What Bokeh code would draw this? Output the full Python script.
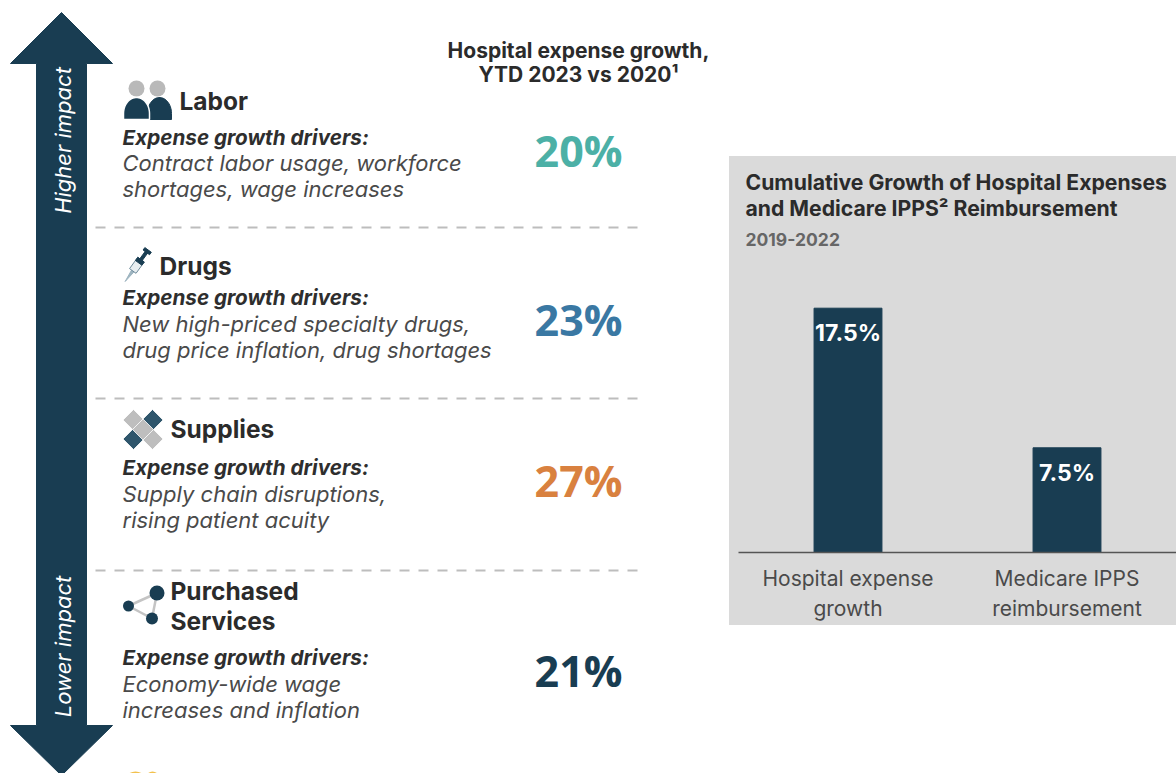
import numpy as np
from bokeh.core.properties import value
from bokeh.embed import file_html
from bokeh.layouts import column
from bokeh.models import ColumnDataSource, Label, Range1d, FactorRange
from bokeh.plotting import figure
from bokeh.resources import INLINE

NAVY = "#193D52"
GREY = "#BDBDBD"
FONT = "Inter"

# Expense categories and their growth figures
section_names = ["Labor", "Drugs", "Supplies", "Purchased", "Services"]
section_name_x = [179, 159, 170, 170, 170]
section_name_y = [100, 265, 428, 590, 620]
driver_heading_y = [137, 297, 467, 657]
driver_lines = [
    "Contract labor usage, workforce", "shortages, wage increases",
    "New high-priced specialty drugs,", "drug price inflation, drug shortages",
    "Supply chain disruptions,", "rising patient acuity",
    "Economy-wide wage", "increases and inflation",
]
driver_line_y = [162, 188, 323, 349, 493, 519, 683, 709]
growth_pct = [20, 23, 27, 21]
growth_colors = ["#4CB0A6", "#3A78A3", "#D9813F", NAVY]
growth_y = [150, 319, 480, 670]
divider_y = [227, 398, 570]

# Cumulative growth bars
bar_categories = ["Hospital expense\ngrowth", "Medicare IPPS\nreimbursement"]
bar_values = [17.5, 7.5]


def text(fig, x, y, s, size, color="#333333", style="normal", align="left", angle=0.0, font=FONT):
    fig.text(x=[x], y=[y], text=[s], text_font=value(font), text_font_size=f"{size}px",
             text_font_style=style, text_color=color, text_align=align,
             text_baseline="middle", angle=angle)


def rotated(cx, cy, deg, pts):
    a = np.radians(deg)
    xs = [cx + px * np.cos(a) - py * np.sin(a) for px, py in pts]
    ys = [cy + px * np.sin(a) + py * np.cos(a) for px, py in pts]
    return xs, ys


def dome(cx, half, top, bottom):
    t = np.linspace(np.pi, 2 * np.pi, 30)
    xs = list(cx + half * np.cos(t)) + [cx + half, cx - half]
    ys = list(top + 16 + 16 * np.sin(t)) + [bottom, bottom]
    return xs, ys


left = figure(width=729, height=773, x_range=Range1d(0, 729), y_range=Range1d(773, 0),
              output_backend="svg", toolbar_location=None, min_border=0)
left.axis.visible = False
left.grid.visible = False
left.outline_line_color = None

# Impact arrow
left.patch([61, 112, 86, 86, 112, 61, 10, 36, 36, 10],
           [12, 63, 63, 725, 725, 775, 725, 725, 63, 63], color=NAVY)
text(left, 62, 140, "Higher impact", 22, "#FFFFFF", "italic", "center", np.pi / 2)
text(left, 62, 646, "Lower impact", 22, "#FFFFFF", "italic", "center", np.pi / 2)

# Column heading
text(left, 578, 50, "Hospital expense growth,", 21, "#2B2B2B", "bold", "center")
text(left, 578, 74, "YTD 2023 vs 2020¹", 21, "#2B2B2B", "bold", "center")

# Dividers
for y in divider_y:
    left.line([95, 638], [y, y], line_color=GREY, line_width=2, line_dash="10 9")

# Section names, driver text and growth figures
for s, x, y in zip(section_names, section_name_x, section_name_y):
    text(left, x, y, s, 24.5, "#2B2B2B", "bold")
for y in driver_heading_y:
    text(left, 122, y, "Expense growth drivers:", 20.7, "#2E2E2E", "bold italic")
for s, y in zip(driver_lines, driver_line_y):
    text(left, 122, y, s, 22, "#4A4A4A", "italic")
for pct, c, y in zip(growth_pct, growth_colors, growth_y):
    text(left, 578, y, f"{pct}%", 43, c, "bold", "center", font="Open Sans")

# Labor icon
left.circle(x=[136, 157], y=[88, 88], radius=8, color="#B9B9B9", line_color=None)
xs, ys = dome(159, 12, 97, 119)
left.patch(xs, ys, color=NAVY)
xs, ys = dome(136, 13, 97, 119)
left.patch(xs, ys, fill_color=NAVY, line_color="#FFFFFF", line_width=1.5)

# Syringe icon
ang, cx, cy = -54, 137, 264
xs, ys = rotated(cx, cy, ang, [(-21, 0), (-8, -1.5), (-8, 1.5)])
left.patch(xs, ys, color="#9DB4C0")
xs, ys = rotated(cx, cy, ang, [(-8, -4), (6, -4), (6, 4), (-8, 4)])
left.patch(xs, ys, fill_color="#E8EEF1", line_color="#6E8A9A", line_width=1)
xs, ys = rotated(cx, cy, ang, [(2, -4), (6, -4), (6, 4), (2, 4)])
left.patch(xs, ys, color=NAVY)
xs, ys = rotated(cx, cy, ang, [(6, -1.5), (16, -1.5), (16, 1.5), (6, 1.5)])
left.patch(xs, ys, color=NAVY)
xs, ys = rotated(cx, cy, ang, [(15, -4), (18, -4), (18, 4), (15, 4)])
left.patch(xs, ys, color=NAVY)

# Bandage icon
for cx, cy, c in [(133, 419.5, "#BEBEBE"), (152, 438.5, "#BEBEBE"),
                  (152, 419.5, "#2F566C"), (133, 438.5, "#2F566C"),
                  (142.5, 429, "#BEBEBE")]:
    left.patch([cx, cx + 10.5, cx, cx - 10.5], [cy - 10.5, cy, cy + 10.5, cy], fill_color=c,
               line_color="#FFFFFF", line_width=0.8)

# Network icon
for x0, y0, x1, y1 in [(128, 605.5, 156.5, 592.5), (128, 605.5, 151.5, 618),
                       (156.5, 592.5, 151.5, 618)]:
    left.line([x0, x1], [y0, y1], line_color="#C4C4C4", line_width=2.5)
left.circle(x=[156.5, 128, 151.5], y=[592.5, 605.5, 618], radius=[7.5, 5.5, 6],
            color=NAVY, line_color=None)

# Top of the next section's icon, cut by the page edge
left.circle(x=[135, 152], y=[783, 778], radius=[12, 7], color="#F2C14E", line_color=None)

# Bar panel
source = ColumnDataSource(dict(cat=bar_categories, val=bar_values,
                               lab=[f"{v}%" for v in bar_values]))
right = figure(width=447, height=469, x_range=FactorRange(*bar_categories, factor_padding=0,
                                                          range_padding=0),
               y_range=Range1d(0, 396 / 13.96), output_backend="svg", toolbar_location=None,
               min_border_left=9, min_border_right=0, min_border_top=0, min_border_bottom=73,
               background_fill_color=None, border_fill_color=None)
right.grid.visible = False
right.outline_line_color = None
right.yaxis.visible = False
right.xaxis.axis_line_color = "#555555"
right.xaxis.axis_line_width = 1.5
right.xaxis.major_tick_line_color = None
right.xaxis.minor_tick_line_color = None
right.xaxis.major_label_standoff = 7
right.xaxis.major_label_text_font = FONT
right.xaxis.major_label_text_font_size = "21px"
right.xaxis.major_label_text_color = "#4A4A4A"
right.vbar(x="cat", top="val", width=0.31, bottom=0, source=source, color=NAVY)
right.text(x="cat", y="val", text="lab", source=source, text_font=value(FONT),
           text_font_size="23px", text_font_style="bold", text_color="#FFFFFF",
           text_align="center", text_baseline="middle", y_offset=25)
for s, y, size, c in [("Cumulative Growth of Hospital Expenses", 371, 21.2, "#2B2B2B"),
                      ("and Medicare IPPS² Reimbursement", 345, 21.2, "#2B2B2B"),
                      ("2019-2022", 313, 17.5, "#666666")]:
    right.add_layout(Label(x=7, y=y, x_units="screen", y_units="screen", text=s,
                           text_font=FONT, text_font_size=f"{size}px", text_font_style="bold",
                           text_color=c, text_baseline="middle"))

right.styles = {"background-color": "#DADADA"}
panel = column(right, spacing=0, width=447, height=469,
               styles={"position": "absolute", "left": "729px", "top": "156px"})
page = column(left, panel, spacing=0, width=1176, height=773)
open("out.html", "w").write(file_html(page, INLINE))
